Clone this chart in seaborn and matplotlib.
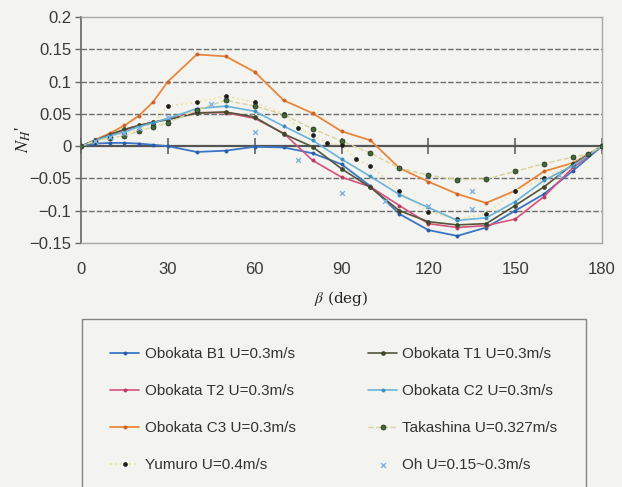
import matplotlib
matplotlib.use("Agg")
import matplotlib.pyplot as plt
import seaborn as sns
import numpy as np

# ---- data -------------------------------------------------------------
beta_obokata = [0, 5, 10, 15, 20, 25, 30, 40, 50, 60, 70, 80, 90, 100,
                110, 120, 130, 140, 150, 160, 170, 180]

obokata_b1 = [0, 0.004, 0.005, 0.005, 0.004, 0.002, 0.0, -0.009, -0.007,
              -0.001, -0.002, -0.011, -0.028, -0.062, -0.105, -0.130,
              -0.139, -0.126, -0.100, -0.074, -0.038, 0]
obokata_t1 = [0, 0.009, 0.018, 0.026, 0.032, 0.037, 0.041, 0.051, 0.053,
              0.045, 0.019, -0.001, -0.035, -0.064, -0.100, -0.117,
              -0.122, -0.120, -0.092, -0.063, -0.028, 0]
obokata_t2 = [0, 0.009, 0.018, 0.025, 0.032, 0.037, 0.042, 0.052, 0.052,
              0.043, 0.020, -0.022, -0.048, -0.063, -0.092, -0.120,
              -0.126, -0.123, -0.113, -0.078, -0.033, 0]
obokata_c2 = [0, 0.009, 0.016, 0.022, 0.030, 0.036, 0.043, 0.058, 0.062,
              0.054, 0.031, 0.009, -0.020, -0.047, -0.075, -0.095,
              -0.115, -0.111, -0.086, -0.053, -0.030, 0]
obokata_c3 = [0, 0.010, 0.020, 0.032, 0.047, 0.069, 0.100, 0.142, 0.139,
              0.115, 0.071, 0.051, 0.023, 0.009, -0.034, -0.055, -0.074,
              -0.088, -0.069, -0.039, -0.026, 0]

beta_takashina = [0, 5, 10, 15, 20, 25, 30, 40, 50, 60, 70, 80, 90, 100,
                  110, 120, 130, 140, 150, 160, 170, 175, 180]
takashina = [0, 0.008, 0.013, 0.016, 0.023, 0.030, 0.036, 0.056, 0.071,
             0.062, 0.049, 0.027, 0.008, -0.011, -0.034, -0.045, -0.052,
             -0.051, -0.039, -0.027, -0.017, -0.012, 0]

beta_yumuro = [10, 15, 20, 25, 30, 40, 50, 60, 70, 75, 80, 85, 90, 95,
               100, 110, 120, 130, 140, 150, 160, 170, 180]
yumuro = [0.015, 0.020, 0.025, 0.035, 0.062, 0.068, 0.078, 0.068, 0.050,
          0.028, 0.017, 0.005, 0.002, -0.020, -0.030, -0.070, -0.102,
          -0.113, -0.105, -0.069, -0.050, -0.027, 0]

beta_oh = [5, 10, 15, 20, 30, 45, 60, 75, 90, 105, 120, 135, 135, 165]
oh = [0.008, 0.014, 0.020, 0.028, 0.045, 0.065, 0.022, -0.022, -0.073,
      -0.085, -0.092, -0.070, -0.098, -0.045]

x_ticks = [0, 30, 60, 90, 120, 150, 180]
y_ticks = [-0.15, -0.1, -0.05, 0, 0.05, 0.1, 0.15, 0.2]
y_ticklabels = ["\u22120.15", "\u22120.1", "\u22120.05", "0", "0.05",
                "0.1", "0.15", "0.2"]

# ---- style ------------------------------------------------------------
sns.set_theme(style="white")
bg = "#f3f3ef"
plt.rcParams["font.family"] = ["Liberation Sans", "DejaVu Sans"]
plt.rcParams["mathtext.fontset"] = "stix"

fig = plt.figure(figsize=(6.22, 4.87), dpi=100, facecolor=bg)
ax = fig.add_axes([81 / 622, 1 - 243 / 487, 521 / 622, 226 / 487])
ax.set_facecolor(bg)

series = [
    ("Obokata B1 U=0.3m/s", beta_obokata, obokata_b1, "#3a76c4", "-", 1.3, "o", 2.3, "#2a5aa8"),
    ("Obokata T2 U=0.3m/s", beta_obokata, obokata_t2, "#d4527e", "-", 1.2, "o", 2.3, "#b83a66"),
    ("Obokata C3 U=0.3m/s", beta_obokata, obokata_c3, "#e8873c", "-", 1.3, "o", 2.3, "#d0602a"),
    ("Yumuro U=0.4m/s", beta_yumuro, yumuro, "#eee2a0", ":", 1.3, "o", 2.8, "#1c1c1c"),
    ("Obokata T1 U=0.3m/s", beta_obokata, obokata_t1, "#55553a", "-", 1.2, "o", 2.8, "#3c4a28"),
    ("Obokata C2 U=0.3m/s", beta_obokata, obokata_c2, "#6ab4d8", "-", 1.2, "o", 2.3, "#3c8ec0"),
    ("Takashina U=0.327m/s", beta_takashina, takashina, "#d8d49a", "--", 1.0, "o", 3.6, "#3f6b34"),
]

for label, xs, ys, lc, ls, lw, mk, ms, mc in series:
    sns.lineplot(x=xs, y=ys, ax=ax, color=lc, linestyle=ls, linewidth=lw,
                 marker=mk, markersize=ms, markerfacecolor=mc,
                 markeredgecolor="#222222" if label.startswith("Takashina") else mc,
                 markeredgewidth=0.5, sort=False, label=label, zorder=3)

sns.scatterplot(x=beta_oh, y=oh, ax=ax, marker="x", s=12, color="#7fb4e6",
                linewidth=1.0, label="Oh U=0.15~0.3m/s", zorder=4)

# ---- axes -------------------------------------------------------------
ax.set_xlim(0, 180)
ax.set_ylim(-0.15, 0.2)
ax.set_xticks(x_ticks)
ax.set_yticks(y_ticks)
ax.set_yticklabels(y_ticklabels)
ax.tick_params(axis="x", length=0, pad=14, labelsize=12, labelcolor="#3a3a3a")
ax.tick_params(axis="y", left=True, length=4, width=1, color="#666666",
               pad=3, labelsize=12, labelcolor="#3a3a3a")

for y in [-0.1, -0.05, 0.05, 0.1, 0.15]:
    ax.axhline(y, color="#6e6e6e", linewidth=1.0, linestyle=(0, (4, 1.5)), zorder=1)

for side in ["top", "right", "bottom"]:
    ax.spines[side].set_color("#a8a8a8")
    ax.spines[side].set_linewidth(1.0)
ax.spines["left"].set_color("#666666")
ax.spines["left"].set_linewidth(1.2)

# category axis crossing at zero, with cross tick marks
zero_axis = ax.secondary_xaxis(0.15 / 0.35)
zero_axis.set_xticks(x_ticks)
zero_axis.tick_params(direction="inout", length=11, width=1.1,
                      color="#555555", labelbottom=False, labeltop=False)
zero_axis.spines["bottom"].set_color("#555555")
zero_axis.spines["bottom"].set_linewidth(1.6)
zero_axis.spines["top"].set_visible(False)

ax.set_xlabel(r"$\beta$ (deg)", fontsize=11, family="serif",
              color="#222222", labelpad=8)
ax.set_ylabel(r"$N_{H}$'", fontsize=13, color="#222222",
              family=["Liberation Serif", "DejaVu Serif"])
ax.yaxis.set_label_coords(-(81 - 33) / 521, (243 - 140) / 226)

# ---- legend -----------------------------------------------------------
h, l = ax.get_legend_handles_labels()
if ax.get_legend():
    ax.get_legend().remove()
leg = fig.legend(h, l, ncol=2, loc="upper left",
                 bbox_to_anchor=(82 / 622, 1 - 319 / 487),
                 frameon=True, fancybox=False, edgecolor="#6a6a6a",
                 facecolor=bg, fontsize=11, borderpad=1.85,
                 labelspacing=1.5, handlelength=1.9, handletextpad=0.35,
                 columnspacing=4.75, borderaxespad=0)
leg.get_frame().set_linewidth(1.0)
for t in leg.get_texts():
    t.set_color("#333333")

fig.savefig("out.png", dpi=100, facecolor=bg)
